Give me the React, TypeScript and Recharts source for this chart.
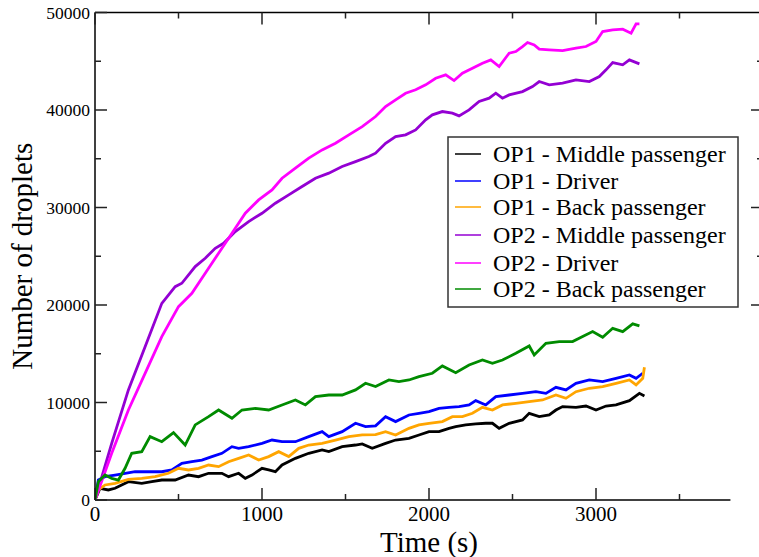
import React from 'react';
import { LineChart, Line, XAxis, YAxis, ReferenceLine } from 'recharts';

type Pt = [number, number];

// time (s), droplet count
const op1Middle: Pt[] = [
  [0, 0], [30, 1200], [80, 1030], [120, 1200], [200, 1880], [280, 1710], [340, 1880], [400, 2050],
  [480, 2050], [560, 2560], [620, 2390], [680, 2740], [760, 2740], [800, 2390], [860, 2740], [900, 2220],
  [940, 2560], [1000, 3250], [1040, 3080], [1080, 2900], [1120, 3590], [1200, 4270], [1280, 4790],
  [1360, 5130], [1400, 4960], [1480, 5470], [1560, 5640], [1600, 5750], [1660, 5300], [1740, 5810],
  [1800, 6150], [1880, 6330], [1940, 6670], [2000, 7010], [2060, 7010], [2120, 7350], [2160, 7520],
  [2220, 7700], [2280, 7800], [2340, 7870], [2380, 7870], [2420, 7350], [2480, 7870], [2560, 8210],
  [2600, 8890], [2660, 8550], [2720, 8720], [2760, 9230], [2800, 9580], [2880, 9510], [2940, 9640],
  [3000, 9230], [3060, 9640], [3120, 9750], [3200, 10190], [3260, 10940], [3290, 10670],
];

const op1Driver: Pt[] = [
  [0, 0], [20, 2050], [60, 2390], [120, 2560], [180, 2740], [240, 2900], [320, 2900], [400, 2900],
  [460, 3080], [520, 3760], [580, 3930], [640, 4100], [700, 4450], [760, 4790], [820, 5470], [860, 5300],
  [920, 5470], [1000, 5810], [1060, 6150], [1120, 5980], [1200, 5980], [1280, 6500], [1360, 7010],
  [1400, 6500], [1480, 7010], [1560, 7870], [1620, 7520], [1680, 7600], [1740, 8550], [1800, 8040],
  [1880, 8720], [1940, 8890], [2000, 9060], [2060, 9400], [2120, 9510], [2180, 9580], [2240, 9750],
  [2280, 10190], [2340, 9750], [2400, 10600], [2480, 10770], [2560, 10940], [2640, 11110], [2700, 10940],
  [2760, 11560], [2820, 11290], [2880, 11970], [2960, 12310], [3040, 12140], [3120, 12480], [3200, 12830],
  [3240, 12480], [3280, 13000],
];

const op1Back: Pt[] = [
  [0, 0], [20, 1030], [60, 1540], [120, 1710], [200, 2120], [280, 2220], [360, 2390], [440, 2740],
  [500, 3250], [560, 3080], [620, 3250], [680, 3590], [740, 3420], [800, 3930], [860, 4270], [920, 4620],
  [980, 4100], [1040, 4450], [1100, 4960], [1160, 4450], [1220, 5300], [1280, 5640], [1360, 5810],
  [1440, 6150], [1520, 6500], [1600, 6670], [1680, 6700], [1740, 7010], [1800, 6670], [1880, 7350],
  [1940, 7700], [2000, 7870], [2080, 8040], [2140, 8550], [2200, 8550], [2260, 8890], [2320, 9510],
  [2380, 9230], [2440, 9750], [2520, 9920], [2600, 10090], [2680, 10260], [2760, 10770], [2820, 10430],
  [2880, 11110], [2960, 11460], [3040, 11630], [3120, 11970], [3200, 12310], [3240, 11800], [3280, 12480],
  [3290, 13610],
];

const op2Middle: Pt[] = [
  [0, 0], [100, 5810], [200, 11290], [300, 15730], [400, 20170], [480, 21880], [520, 22230], [600, 23940],
  [660, 24800], [720, 25820], [770, 26330], [840, 27530], [920, 28560], [1000, 29410], [1080, 30440],
  [1160, 31290], [1240, 32150], [1320, 33000], [1400, 33520], [1480, 34200], [1560, 34710], [1640, 35230],
  [1680, 35570], [1740, 36590], [1800, 37280], [1860, 37450], [1920, 37960], [1980, 38990], [2020, 39500],
  [2080, 39840], [2140, 39670], [2180, 39400], [2240, 40010], [2300, 40870], [2360, 41210], [2400, 41720],
  [2440, 41210], [2480, 41550], [2560, 41890], [2620, 42410], [2660, 42920], [2720, 42580], [2800, 42750],
  [2880, 43090], [2960, 42920], [3020, 43430], [3060, 44120], [3100, 44870], [3160, 44630], [3200, 45140],
  [3260, 44730],
];

const op2Driver: Pt[] = [
  [0, 0], [100, 4790], [200, 9230], [300, 12990], [400, 16750], [500, 19830], [580, 21200], [660, 23260],
  [740, 25310], [820, 27360], [900, 29410], [980, 30780], [1060, 31810], [1120, 33000], [1200, 34030],
  [1280, 35060], [1360, 35910], [1440, 36590], [1520, 37450], [1600, 38300], [1680, 39330], [1740, 40360],
  [1800, 41040], [1860, 41720], [1920, 42070], [1980, 42580], [2040, 43260], [2100, 43600], [2150, 43020],
  [2200, 43770], [2260, 44290], [2320, 44800], [2370, 45140], [2420, 44460], [2480, 45830], [2520, 46000],
  [2560, 46510], [2590, 46920], [2630, 46680], [2660, 46240], [2720, 46170], [2800, 46100], [2880, 46340],
  [2940, 46510], [3000, 47030], [3040, 48050], [3100, 48220], [3160, 48290], [3210, 47880], [3240, 48840],
  [3260, 48840],
];

const op2Back: Pt[] = [
  [0, 0], [20, 1880], [60, 2560], [100, 2220], [140, 2050], [180, 3250], [220, 4790], [280, 4960],
  [330, 6500], [400, 5980], [470, 6910], [540, 5640], [600, 7700], [680, 8550], [740, 9230], [820, 8380],
  [880, 9230], [960, 9400], [1040, 9230], [1120, 9750], [1200, 10260], [1260, 9750], [1320, 10600],
  [1400, 10770], [1480, 10770], [1560, 11290], [1620, 11970], [1680, 11630], [1760, 12310], [1820, 12140],
  [1880, 12310], [1940, 12650], [2020, 13000], [2080, 13750], [2160, 13060], [2240, 13850], [2320, 14360],
  [2380, 14020], [2440, 14360], [2520, 15050], [2600, 15800], [2630, 14880], [2700, 16070], [2780, 16250],
  [2860, 16250], [2920, 16760], [2980, 17270], [3040, 16690], [3100, 17610], [3160, 17270], [3220, 18060],
  [3260, 17850],
];

const series = [
  { name: 'OP1 - Middle passenger', color: '#000000', points: op1Middle },
  { name: 'OP1 - Driver', color: '#0000ff', points: op1Driver },
  { name: 'OP1 - Back passenger', color: '#ffa500', points: op1Back },
  { name: 'OP2 - Middle passenger', color: '#9400d3', points: op2Middle },
  { name: 'OP2 - Driver', color: '#ff00ff', points: op2Driver },
  { name: 'OP2 - Back passenger', color: '#008b00', points: op2Back },
];

const xTicks = [0, 500, 1000, 1500, 2000, 2500, 3000, 3500, 4000];
const xLabelled = [0, 1000, 2000, 3000];
const yTicks = [0, 5000, 10000, 15000, 20000, 25000, 30000, 35000, 40000, 45000, 50000];
const yTicksRight = [20000, 25000, 30000, 35000, 40000, 45000];

const serif: React.CSSProperties = { fontFamily: "'Liberation Serif', Tinos, 'DejaVu Serif', serif" };
const TICK = '#222';

const toRows = (pts: Pt[]) => pts.map(([t, v]) => ({ t, v }));

// ticks point inward; majors are longer and carry the labels
const BottomTick = (props: any) => {
  const { x, y, payload } = props;
  const major = payload.value % 1000 === 0;
  return (
    <g>
      <line x1={x} y1={y} x2={x} y2={y - (major ? 12 : 6)} stroke={TICK} strokeWidth={1.5} />
      {xLabelled.includes(payload.value) && (
        <text x={x} y={y + 21} textAnchor="middle" style={serif} fontSize={21} fill="#000">
          {payload.value}
        </text>
      )}
    </g>
  );
};

const TopTick = (props: any) => {
  const { x, y, payload } = props;
  const major = payload.value % 1000 === 0;
  return <line x1={x} y1={y} x2={x} y2={y + (major ? 12 : 6)} stroke={TICK} strokeWidth={1.5} />;
};

const LeftTick = (props: any) => {
  const { x, y, payload } = props;
  const major = payload.value % 10000 === 0;
  return (
    <g>
      <line x1={x} y1={y} x2={x + (major ? 12 : 6)} y2={y} stroke={TICK} strokeWidth={1.5} />
      {major && (
        <text x={x - 5} y={y + 6} textAnchor="end" style={serif} fontSize={17.5} fill="#000">
          {payload.value}
        </text>
      )}
    </g>
  );
};

const RightTick = (props: any) => {
  const { x, y, payload } = props;
  const major = payload.value % 10000 === 0;
  return <line x1={x} y1={y} x2={x - (major ? 12 : 6)} y2={y} stroke={TICK} strokeWidth={1.5} />;
};

const YTitle = ({ viewBox }: any) => {
  const cx = viewBox.x + 32;
  const cy = viewBox.y + viewBox.height / 2;
  return (
    <text x={cx} y={cy} transform={`rotate(-90 ${cx} ${cy})`} textAnchor="middle" style={serif} fontSize={29} fill="#000">
      Number of droplets
    </text>
  );
};

const XTitle = ({ viewBox }: any) => (
  <text x={viewBox.x + viewBox.width / 2} y={viewBox.y + 52} textAnchor="middle" style={serif} fontSize={29} fill="#000">
    Time (s)
  </text>
);

const legendRows = [162, 189, 215, 243, 271, 297];

const LegendBox = () => (
  <svg width={759} height={557} style={{ position: 'absolute', left: 0, top: 0, pointerEvents: 'none' }}>
    <rect x={448} y={137} width={290} height={170} fill="#fff" stroke="#333" strokeWidth={1.5} />
    {series.map((s, i) => (
      <g key={s.name}>
        <line x1={455} x2={481} y1={legendRows[i] - 8} y2={legendRows[i] - 8} stroke={s.color} strokeWidth={1.5} />
        <text x={493} y={legendRows[i]} style={serif} fontSize={24} fill="#000">
          {s.name}
        </text>
      </g>
    ))}
  </svg>
);

export default function App() {
  return (
    <div style={{ position: 'fixed', left: 0, top: 0, width: 759, height: 557, overflow: 'hidden', background: '#fff' }}>
      <LineChart width={800} height={557} margin={{ top: 0, right: 0, bottom: 0, left: 0 }}>
        <XAxis
          xAxisId="bottom"
          type="number"
          dataKey="t"
          domain={[0, 4000]}
          ticks={xTicks}
          allowDataOverflow
          height={57}
          axisLine={false}
          tickLine={false}
          tickSize={0}
          tickMargin={0}
          tick={BottomTick}
          label={(p: any) => <XTitle {...p} />}
        />
        <XAxis
          xAxisId="top"
          orientation="top"
          type="number"
          dataKey="t"
          domain={[0, 4000]}
          ticks={xTicks}
          allowDataOverflow
          height={12.5}
          axisLine={{ stroke: '#000', strokeWidth: 1.5 }}
          tickLine={false}
          tickSize={0}
          tickMargin={0}
          tick={TopTick}
        />
        <YAxis
          yAxisId="left"
          type="number"
          domain={[0, 50000]}
          ticks={yTicks}
          allowDataOverflow
          width={95}
          axisLine={{ stroke: '#000', strokeWidth: 1.5 }}
          tickLine={false}
          tickSize={0}
          tickMargin={0}
          tick={LeftTick}
          label={(p: any) => <YTitle {...p} />}
        />
        <YAxis
          yAxisId="right"
          orientation="right"
          type="number"
          domain={[0, 50000]}
          ticks={yTicksRight}
          allowDataOverflow
          width={37}
          axisLine={false}
          tickLine={false}
          tickSize={0}
          tickMargin={0}
          tick={RightTick}
        />
        <ReferenceLine
          xAxisId="bottom"
          yAxisId="left"
          segment={[{ x: 0, y: 0 }, { x: 3805, y: 0 }]}
          stroke="#000"
          strokeWidth={1.5}
          ifOverflow="visible"
        />
        {series.map((s) => (
          <Line
            key={s.name}
            xAxisId="bottom"
            yAxisId="left"
            data={toRows(s.points)}
            dataKey="v"
            name={s.name}
            type="linear"
            stroke={s.color}
            strokeWidth={2.8}
            dot={false}
            isAnimationActive={false}
          />
        ))}
      </LineChart>
      <LegendBox />
    </div>
  );
}
